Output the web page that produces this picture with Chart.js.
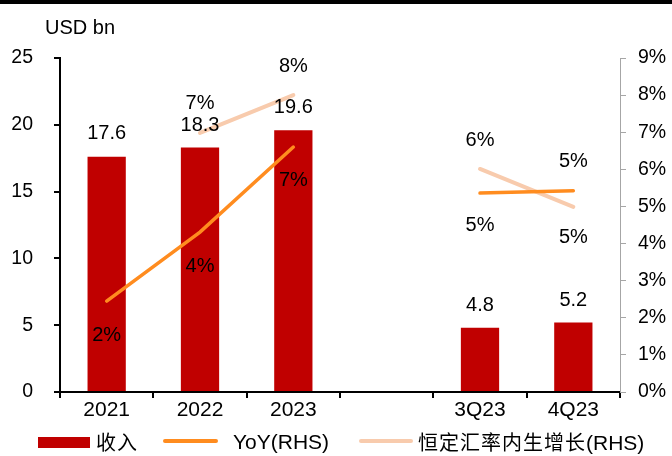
<!DOCTYPE html>
<html>
<head>
<meta charset="utf-8">
<script src="https://cdn.jsdelivr.net/npm/chart.js@4"></script>
<style>
  html, body { margin: 0; padding: 0; background: #fff; }
  #wrap { position: relative; width: 672px; height: 456px; overflow: hidden; font-family: "Liberation Sans", Arial, sans-serif; color: #000; }
  #topbar { position: absolute; left: 0; top: 0; width: 672px; height: 4px; background: #000; }
  #unit { position: absolute; left: 45px; top: 16px; font-size: 20px; }
  canvas { position: absolute; left: 0; top: 0; }
  .lg { position: absolute; top: 430px; font-size: 21px; line-height: 24px; white-space: nowrap; }
  .cjk { font-family: "Noto Sans CJK SC", sans-serif; font-size: 20px; letter-spacing: 1px; }
  .box { position: absolute; }
</style>
</head>
<body>
<div id="wrap">
  <canvas id="c" width="672" height="456"></canvas>
  <div id="topbar"></div>
  <div id="unit">USD bn</div>
  <div class="box" style="left:38px;top:437px;width:52px;height:11px;background:#C00000"></div>
  <span class="lg cjk" style="left:96px">收入</span>
  <div class="box" style="left:163px;top:439px;width:55px;height:4px;background:#FF8C1F;border-radius:2px"></div>
  <span class="lg" style="left:233px">YoY(RHS)</span>
  <div class="box" style="left:359px;top:439px;width:54px;height:4px;background:#F8CBAD;border-radius:2px"></div>
  <span class="lg" style="left:418px"><span class="cjk">恒定汇率内生增长</span>(RHS)</span>
</div>
<script>
  // 카테고리와 값
  const categories = ['2021', '2022', '2023', '', '3Q23', '4Q23'];
  const revenue = [17.6, 18.3, 19.6, null, 4.8, 5.2];          // USD bn
  const yoy = [2.45, 4.31, 6.6, null, 5.36, 5.42];              // %
  const ccGrowth = [null, 6.98, 8.0, null, 6.01, 4.99];          // %
  const revenueLabels = ['17.6', '18.3', '19.6', '', '4.8', '5.2'];
  const yoyLabels = ['2%', '4%', '7%', '', '5%', '5%'];
  const ccLabels = ['', '7%', '8%', '', '6%', '5%'];

  // 라벨 위치 보정 (px, 점 기준)
  const labelOffsets = [
    [-23, -22, -23, 0, -22, -22],
    [34, 34, 33, 0, 32, 47],
    [0, -29, -29, 0, -28, -45],
  ];
  const labelTexts = [revenueLabels, yoyLabels, ccLabels];

  const labelPlugin = {
    id: 'pointLabels',
    afterDatasetsDraw(chart) {
      const ctx = chart.ctx;
      ctx.save();
      ctx.font = '20px "Liberation Sans", Arial, sans-serif';
      ctx.fillStyle = '#000';
      ctx.textAlign = 'center';
      ctx.textBaseline = 'middle';
      chart.data.datasets.forEach((ds, i) => {
        const meta = chart.getDatasetMeta(i);
        meta.data.forEach((el, j) => {
          const t = labelTexts[i][j];
          if (!t || ds.data[j] == null) return;
          ctx.fillText(t, el.x, el.y + labelOffsets[i][j]);
        });
      });
      ctx.restore();
    }
  };

  new Chart(document.getElementById('c'), {
    type: 'bar',
    data: {
      labels: categories,
      datasets: [
        { type: 'bar', label: '收入', data: revenue, yAxisID: 'y', backgroundColor: '#C00000',
          categoryPercentage: 1, barPercentage: 0.41, order: 3 },
        { type: 'line', label: 'YoY(RHS)', data: yoy, yAxisID: 'y2', borderColor: '#FF8C1F',
          borderWidth: 3.5, pointRadius: 0, tension: 0, borderCapStyle: 'round', spanGaps: false, order: 1 },
        { type: 'line', label: '恒定汇率内生增长(RHS)', data: ccGrowth, yAxisID: 'y2', borderColor: '#F8CBAD',
          borderWidth: 4, pointRadius: 0, tension: 0, borderCapStyle: 'round', spanGaps: false, order: 2 },
      ],
    },
    options: {
      responsive: false, animation: false, devicePixelRatio: 1,
      layout: { padding: { top: 58, bottom: 34, left: 0, right: 0 } },
      plugins: { legend: { display: false }, tooltip: { enabled: false } },
      scales: {
        x: {
          offset: true,
          grid: { offset: true, drawOnChartArea: false, tickLength: 6, color: '#000', lineWidth: 2 },
          border: { color: '#000', width: 2 },
          ticks: { color: '#000', padding: 0, font: { size: 21, family: '"Liberation Sans", Arial, sans-serif' }, maxRotation: 0 },
          afterFit: s => { s.height = 30; },
        },
        y: {
          position: 'left', min: 0, max: 25,
          grid: { drawOnChartArea: false, tickLength: 6, color: '#000', lineWidth: 2 },
          border: { color: '#000', width: 2 },
          ticks: { stepSize: 5, color: '#000', padding: 21, font: { size: 19.5, family: '"Liberation Sans", Arial, sans-serif' } },
          afterFit: s => { s.width = 60; },
        },
        y2: {
          position: 'right', min: 0, max: 9,
          grid: { drawOnChartArea: false, tickLength: 6, color: '#A6A6A6', lineWidth: 1 },
          border: { color: '#A6A6A6', width: 1 },
          ticks: { stepSize: 1, color: '#000', padding: 12, callback: v => v + '%',
                   font: { size: 19.5, family: '"Liberation Sans", Arial, sans-serif' } },
          afterFit: s => { s.width = 52; },
        },
      },
    },
    plugins: [labelPlugin],
  });
</script>
</body>
</html>
